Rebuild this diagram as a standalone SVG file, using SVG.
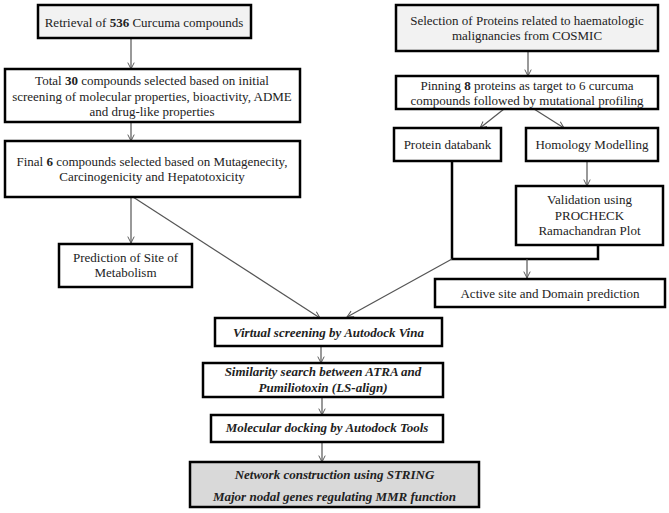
<svg xmlns="http://www.w3.org/2000/svg" width="669" height="513" viewBox="0 0 669 513">
<defs>
<marker id="arr" viewBox="0 0 10 10" refX="9" refY="5" markerWidth="8" markerHeight="8" orient="auto" markerUnits="userSpaceOnUse">
<path d="M1,1 L9,5 L1,9" fill="none" stroke="#555" stroke-width="1.2"/>
</marker>
<style>
.box{fill:#fff;stroke:#000;stroke-width:2.5}
.g1{fill:#f2f2f2}
.g2{fill:#d9d9d9}
text{font-size:13px;fill:#222;text-anchor:middle}
.bi{font-weight:bold;font-style:italic}
.c{stroke:#555;stroke-width:1.2;fill:none;marker-end:url(#arr)}
.br{stroke:#000;stroke-width:2.5;fill:none}
</style>
</defs>
<rect width="669" height="513" fill="#fff"/>
<g id="connectors">
<line class="c" x1="131" y1="38" x2="131" y2="69"/>
<line class="c" x1="131" y1="122" x2="131" y2="141"/>
<line class="c" x1="131" y1="197" x2="131" y2="243"/>
<line class="c" x1="133" y1="197" x2="320" y2="318"/>
<line class="c" x1="528" y1="51" x2="528" y2="76"/>
<line class="c" x1="504" y1="109" x2="480" y2="128"/>
<line class="c" x1="534" y1="109" x2="564" y2="128"/>
<line class="c" x1="587" y1="161" x2="587" y2="186"/>
<polyline class="br" points="452,161 452,259 598,259 598,245"/>
<line class="c" x1="527" y1="259" x2="527" y2="278"/>
<line class="c" x1="452" y1="259" x2="347" y2="317"/>
<line class="c" x1="321" y1="346" x2="321" y2="363"/>
<line class="c" x1="322" y1="397" x2="322" y2="415"/>
<line class="c" x1="322" y1="442" x2="322" y2="462"/>
</g>
<g font-family="'Liberation Serif', 'Times New Roman', 'DejaVu Serif', serif">
<g id="n1"><rect class="box g1" x="38" y="5" width="213" height="33"/><text x="144" y="27">Retrieval of <tspan font-weight="bold">536</tspan> Curcuma compounds</text></g>
<g id="n2"><rect class="box" x="5" y="69" width="295" height="53"/><text x="152" y="85">Total <tspan font-weight="bold">30</tspan> compounds selected based on initial</text><text x="152" y="101">screening of molecular properties, bioactivity, ADME</text><text x="152" y="116">and drug-like properties</text></g>
<g id="n3"><rect class="box" x="5" y="141" width="295" height="56"/><text x="152" y="166">Final <tspan font-weight="bold">6</tspan> compounds selected based on Mutagenecity,</text><text x="152" y="181">Carcinogenicity and Hepatotoxicity</text></g>
<g id="n4"><rect class="box" x="59" y="244" width="133" height="43"/><text x="125.5" y="262">Prediction of Site of</text><text x="125.5" y="277">Metabolism</text></g>
<g id="n5"><rect class="box g1" x="396" y="5" width="262" height="46"/><text x="527" y="25">Selection of Proteins related to haematologic</text><text x="527" y="40">malignancies  from COSMIC</text></g>
<g id="n6"><rect class="box" x="396" y="76" width="262" height="33"/><text x="527" y="90">Pinning <tspan font-weight="bold">8</tspan> proteins as target to 6 curcuma</text><text x="527" y="105">compounds followed by mutational profiling</text></g>
<g id="n7"><rect class="box" x="394" y="128" width="107" height="33"/><text x="447.5" y="149">Protein databank</text></g>
<g id="n8"><rect class="box" x="526" y="128" width="132" height="33"/><text x="592" y="149">Homology Modelling</text></g>
<g id="n9"><rect class="box" x="516" y="186" width="147" height="59"/><text x="589.5" y="204">Validation using</text><text x="589.5" y="220">PROCHECK</text><text x="589.5" y="235">Ramachandran Plot</text></g>
<g id="n10"><rect class="box" x="435" y="279" width="230" height="28"/><text x="550" y="298">Active site and Domain prediction</text></g>
<g id="n11"><rect class="box" x="215" y="318" width="227" height="28"/><text class="bi" x="328.5" y="337">Virtual screening  by Autodock Vina</text></g>
<g id="n12"><rect class="box" x="203" y="363" width="240" height="34"/><text class="bi" x="323" y="376">Similarity search between ATRA and</text><text class="bi" x="323" y="392">Pumiliotoxin (LS-align)</text></g>
<g id="n13"><rect class="box" x="211" y="415" width="232" height="27"/><text class="bi" x="327" y="432">Molecular docking by Autodock Tools</text></g>
<g id="n14"><rect class="box g2" x="190" y="462" width="289" height="45"/><text class="bi" x="334.5" y="479">Network construction  using STRING</text><text class="bi" x="334.5" y="501">Major nodal genes regulating  MMR function</text></g>
</g>
</svg>
